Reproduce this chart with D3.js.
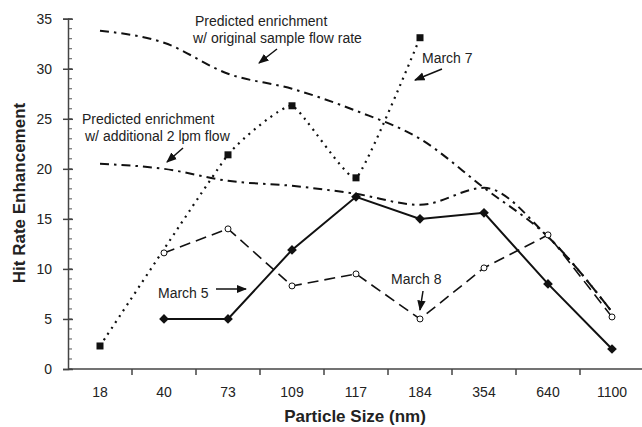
<!DOCTYPE html>
<html>
<head>
<meta charset="utf-8">
<script src="https://cdn.jsdelivr.net/npm/d3@7"></script>
<style>
  body { margin: 0; background: #fff; }
  text { font-family: "Liberation Sans", Arial, sans-serif; }
</style>
</head>
<body>
<div id="chart-area"></div>
<script>
// particle size categories and values
var sizes = ["18", "40", "73", "109", "117", "184", "354", "640", "1100"];
var march5 = [null, 5, 5, 11.9, 17.2, 15, 15.6, 8.5, 2];
var march7 = [2.3, null, 21.4, 26.3, 19.1, 33.1, null, null, null];
var march8 = [null, 11.6, 14, 8.3, 9.5, 5, 10.1, 13.4, 5.2];
var predOriginal = [33.8, 32.6, 29.5, 28.0, 25.8, 23.0, 18.1, 13.2, 5.7];
var predAdditional = [20.5, 20, 18.8, 18.3, 17.5, 16.4, 18.1, 13.2, 5.7];
var yTicks = [0, 5, 10, 15, 20, 25, 30, 35];

var margin = {top: 18.7, right: 0, bottom: 58, left: 68},
    width = 644 - margin.left,
    height = 369 - margin.top;

var svg = d3.select("#chart-area")
  .append("svg")
    .attr("width", 642)
    .attr("height", 427)
  .append("g")
    .attr("transform", "translate(" + margin.left + "," + margin.top + ")");

var x = d3.scaleBand()
    .domain(sizes)
    .range([0, width]);

var y = d3.scaleLinear()
    .domain([0, 35])
    .range([height, 0]);

// minor y ticks every 1 unit, inside the axis
svg.append("g")
  .selectAll("line")
  .data(d3.range(0, 36))
  .enter()
  .append("line")
    .attr("x1", 0)
    .attr("x2", 4)
    .attr("y1", function(d) { return y(d); })
    .attr("y2", function(d) { return y(d); })
    .attr("stroke", "#555")
    .attr("stroke-width", 1);

// y axis
var yAxis = svg.append("g")
  .call(d3.axisLeft(y).tickValues(yTicks).tickSize(5).tickPadding(6));
yAxis.select(".domain").attr("stroke", "#444").attr("stroke-width", 1.5);
yAxis.selectAll(".tick line").attr("x2", 5).attr("x1", -5).attr("stroke", "#444").attr("stroke-width", 1.5);
yAxis.selectAll("text")
  .attr("x", -16)
  .style("font-size", "14px")
  .style("font-family", "Liberation Sans, Arial, sans-serif")
  .attr("fill", "#222");

// x axis: ticks at the band edges
var xg = svg.append("g")
  .attr("transform", "translate(0," + height + ")");
xg.append("line")
  .attr("x1", 0).attr("x2", width)
  .attr("stroke", "#444").attr("stroke-width", 1.5);
xg.selectAll(".edge")
  .data(sizes.slice(1).concat(["end"]))
  .enter()
  .append("line")
    .attr("x1", function(d, i) { return x(sizes[i]) + x.bandwidth(); })
    .attr("x2", function(d, i) { return x(sizes[i]) + x.bandwidth(); })
    .attr("y1", 0).attr("y2", 6)
    .attr("stroke", "#444").attr("stroke-width", 1.5);
xg.selectAll(".lab")
  .data(sizes)
  .enter()
  .append("text")
    .attr("x", function(d) { return x(d) + x.bandwidth() / 2; })
    .attr("y", 28)
    .attr("text-anchor", "middle")
    .style("font-size", "14px")
    .attr("fill", "#222")
    .text(function(d) { return d; });

// axis titles
svg.append("text")
  .attr("x", width / 2 - 1)
  .attr("y", height + 53)
  .attr("text-anchor", "middle")
  .style("font-size", "17px")
  .style("font-weight", "bold")
  .attr("fill", "#222")
  .text("Particle Size (nm)");

svg.append("text")
  .attr("transform", "rotate(-90)")
  .attr("x", -(193 - margin.top))
  .attr("y", -43)
  .attr("text-anchor", "middle")
  .style("font-size", "17px")
  .style("font-weight", "bold")
  .attr("fill", "#222")
  .text("Hit Rate Enhancement");

function pts(vals) {
  return sizes.map(function(s, i) { return {s: s, v: vals[i]}; })
    .filter(function(d) { return d.v !== null; });
}
function cx(d) { return x(d.s) + x.bandwidth() / 2; }

var straight = d3.line().x(cx).y(function(d) { return y(d.v); });
var smooth = d3.line().x(cx).y(function(d) { return y(d.v); })
  .curve(d3.curveMonotoneX);
var soft = d3.line().x(cx).y(function(d) { return y(d.v); })
  .curve(d3.curveCardinal.tension(0.6));

// predicted lines (dash-dot)
[predOriginal, predAdditional].forEach(function(vals) {
  svg.append("path")
    .datum(pts(vals))
    .attr("d", smooth)
    .attr("fill", "none")
    .attr("stroke", "#111")
    .attr("stroke-width", 2)
    .attr("stroke-dasharray", "9,5,2.5,5");
});

// March 7 dotted
svg.append("path")
  .datum(pts(march7))
  .attr("d", soft)
  .attr("fill", "none")
  .attr("stroke", "#111")
  .attr("stroke-width", 2.2)
  .attr("stroke-dasharray", "2,5");

// March 8 dashed
svg.append("path")
  .datum(pts(march8))
  .attr("d", straight)
  .attr("fill", "none")
  .attr("stroke", "#111")
  .attr("stroke-width", 1.6)
  .attr("stroke-dasharray", "11,6");

// March 5 solid
svg.append("path")
  .datum(pts(march5))
  .attr("d", straight)
  .attr("fill", "none")
  .attr("stroke", "#111")
  .attr("stroke-width", 2);

// markers
svg.append("g")
  .selectAll("rect")
  .data(pts(march7))
  .enter()
  .append("rect")
    .attr("x", function(d) { return cx(d) - 3.5; })
    .attr("y", function(d) { return y(d.v) - 3.5; })
    .attr("width", 7).attr("height", 7)
    .attr("fill", "#111");

svg.append("g")
  .selectAll("path")
  .data(pts(march5))
  .enter()
  .append("path")
    .attr("d", d3.symbol().type(d3.symbolDiamond2).size(60))
    .attr("transform", function(d) { return "translate(" + cx(d) + "," + y(d.v) + ")"; })
    .attr("fill", "#111");

svg.append("g")
  .selectAll("circle")
  .data(pts(march8))
  .enter()
  .append("circle")
    .attr("cx", cx)
    .attr("cy", function(d) { return y(d.v); })
    .attr("r", 3)
    .attr("fill", "#fff")
    .attr("stroke", "#111")
    .attr("stroke-width", 1);

// annotations (page coords)
var page = d3.select("svg");
var defs = page.append("defs");
defs.append("marker")
  .attr("id", "ah")
  .attr("viewBox", "0 0 10 10")
  .attr("refX", 9).attr("refY", 5)
  .attr("markerWidth", 7).attr("markerHeight", 7)
  .attr("orient", "auto")
  .append("path")
    .attr("d", "M0,1 L10,5 L0,9 Z")
    .attr("fill", "#111");

var notes = [
  {lines: ["Predicted enrichment", "w/ original sample flow rate"], xs: [195, 193], y: 26, a: [277, 49, 259, 63]},
  {lines: ["Predicted enrichment", "w/ additional 2 lpm flow"], xs: [82, 85], y: 124, a: [183, 148, 167, 162]},
  {lines: ["March 7"], xs: [422], y: 63, a: [442, 69, 415, 80]},
  {lines: ["March 5"], xs: [158], y: 298, a: [216, 289, 246, 289]},
  {lines: ["March 8"], xs: [391], y: 284, a: [423, 291, 420, 310]}
];

notes.forEach(function(n) {
  var t = page.append("text")
    .style("font-size", "14px")
    .attr("fill", "#222");
  n.lines.forEach(function(l, i) {
    t.append("tspan")
      .attr("x", n.xs[i])
      .attr("y", n.y + i * 17)
      .text(l);
  });
  page.append("line")
    .attr("x1", n.a[0]).attr("y1", n.a[1])
    .attr("x2", n.a[2]).attr("y2", n.a[3])
    .attr("stroke", "#111")
    .attr("stroke-width", 1.5)
    .attr("marker-end", "url(#ah)");
});
</script>
</body>
</html>
